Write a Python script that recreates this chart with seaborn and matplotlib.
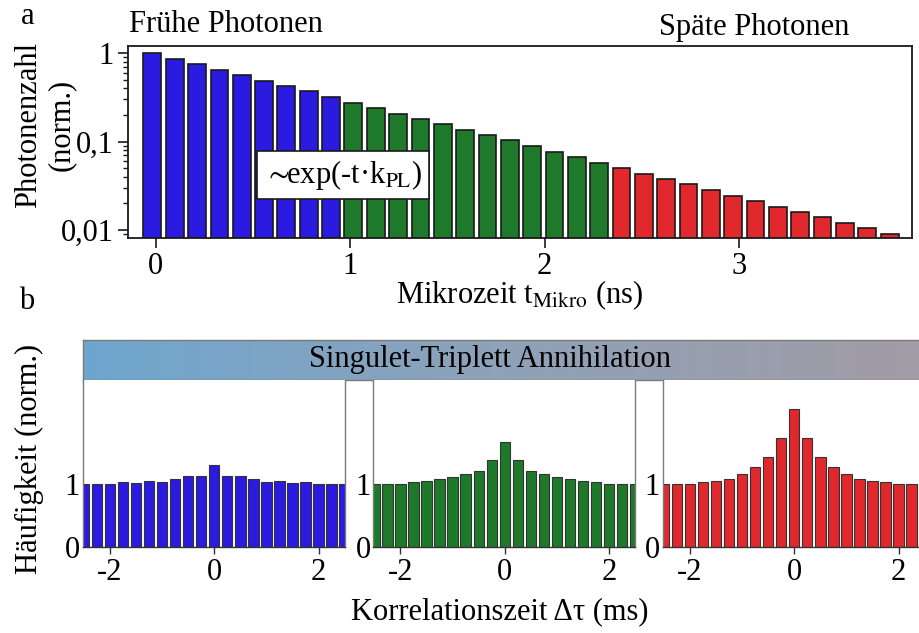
import numpy as np
import pandas as pd
import matplotlib
matplotlib.use("Agg")
import matplotlib.pyplot as plt
import seaborn as sns
from matplotlib.colors import LinearSegmentedColormap

# ---------------- data ----------------
# (a) micro-time histogram of photon arrivals, normalised to the first bin
micro_time_ns = [-0.017, 0.098, 0.213, 0.328, 0.443, 0.558, 0.672, 0.787, 0.902,
                 1.017, 1.132, 1.247, 1.362, 1.477, 1.592, 1.707, 1.821, 1.936,
                 2.051, 2.166, 2.281, 2.396, 2.511, 2.626, 2.741, 2.856, 2.970,
                 3.085, 3.200, 3.315, 3.430, 3.545, 3.660, 3.775]
photon_counts = [1.000, 0.870, 0.757, 0.653, 0.564, 0.490, 0.427, 0.371, 0.320,
                 0.276, 0.240, 0.207, 0.182, 0.157, 0.136, 0.118, 0.103, 0.0886,
                 0.0771, 0.0670, 0.0578,
                 0.0499, 0.0434, 0.0378, 0.0329, 0.0284, 0.0245, 0.0213, 0.0184,
                 0.0160, 0.0139, 0.0120, 0.0104, 0.0089]
photon_group = ["früh"] * 9 + ["mittel"] * 12 + ["spät"] * 13

# (b) correlation histograms for the three photon windows
lag_ms = [-2.5, -2.25, -2.0, -1.75, -1.5, -1.25, -1.0, -0.75, -0.5, -0.25, 0.0,
          0.25, 0.5, 0.75, 1.0, 1.25, 1.5, 1.75, 2.0, 2.25, 2.5]
corr_early = [1.00, 1.00, 1.01, 1.03, 1.02, 1.05, 1.04, 1.08, 1.13, 1.14, 1.31,
              1.14, 1.13, 1.08, 1.04, 1.05, 1.02, 1.03, 1.01, 1.00, 1.00]
corr_middle = [1.00, 1.00, 1.005, 1.03, 1.05, 1.09, 1.11, 1.16, 1.22, 1.39, 1.68,
               1.39, 1.22, 1.16, 1.11, 1.09, 1.05, 1.03, 1.01, 1.00, 1.00]
corr_late = [1.00, 1.00, 1.01, 1.03, 1.05, 1.09, 1.16, 1.27, 1.44, 1.74, 2.21,
             1.74, 1.44, 1.27, 1.16, 1.09, 1.05, 1.03, 1.01, 1.00, 1.00]

group_colors = {"früh": "#2b1ae0", "mittel": "#1e7a2a", "spät": "#e1292d"}

# ---------------- style ----------------
sns.set_theme(style="ticks")
plt.rcParams["font.family"] = ["Liberation Serif", "DejaVu Serif"]
plt.rcParams["mathtext.fontset"] = "stix"
FS = 22
plt.rcParams.update({
    "font.size": FS,
    "text.color": "black",
    "axes.labelcolor": "black",
    "xtick.color": "black",
    "ytick.color": "black",
    "xtick.labelcolor": "black",
    "ytick.labelcolor": "black",
})

fig = plt.figure(figsize=(9.2, 6.33), dpi=100)
W, H = 920.0, 633.0


def fig_rect(x0, y0, x1, y1):
    return [x0 / W, 1 - y1 / H, (x1 - x0) / W, (y1 - y0) / H]


# ---------------- panel a ----------------
ax_a = fig.add_axes(fig_rect(128, 46, 912, 238))
df_a = pd.DataFrame({"t": micro_time_ns, "n": photon_counts, "g": photon_group})
sns.barplot(data=df_a, x="t", y="n", hue="g", palette=group_colors,
            native_scale=True, dodge=False, width=0.8, saturation=1,
            edgecolor="#1a1a1a", linewidth=1.2, legend=False, ax=ax_a)
ax_a.set_yscale("log", nonpositive="clip")
ax_a.set_xlim(-0.142, 3.89)
ax_a.set_ylim(0.0081, 1.21)
ax_a.set_xticks([0, 1, 2, 3])
ax_a.set_xticklabels(["0", "1", "2", "3"])
ax_a.set_yticks([1, 0.1, 0.01])
ax_a.set_yticklabels(["1", "0,1", "0,01"])
ax_a.tick_params(axis="both", which="major", direction="out", length=7,
                 width=1.2, color="#1a1a1a", labelsize=FS, pad=3)
ax_a.tick_params(axis="y", which="minor", direction="out", length=3.5,
                 width=1.0, color="#1a1a1a")
ax_a.tick_params(axis="x", which="minor", bottom=False)
for s in ax_a.spines.values():
    s.set_color("#1a1a1a")
    s.set_linewidth(1.3)
ax_a.set_xlabel(r"Mikrozeit t$_{\mathrm{Mikro}}$ (ns)", fontsize=FS, labelpad=-2)
ax_a.set_ylabel("")

fig.text(45 / W, 1 - 125 / H, "Photonenzahl\n(norm.)", rotation=90,
         ha="center", va="center", multialignment="center", linespacing=1.15,
         fontsize=FS)

ax_a.text((343 - 128) / (912 - 128), (238 - 175) / (238 - 46),
          r"$\sim\!\!$exp(-t·k$_{\mathrm{PL}}$)", transform=ax_a.transAxes,
          ha="center", va="center", fontsize=FS,
          bbox=dict(boxstyle="square,pad=0.22", fc="white", ec="#1a1a1a", lw=1.2))

fig.text(226 / W, 1 - 25 / H, "Frühe Photonen", ha="center", va="center",
         fontsize=FS)
fig.text(754 / W, 1 - 28 / H, "Späte Photonen", ha="center", va="center",
         fontsize=FS)
fig.text(28 / W, 1 - 16 / H, "a", ha="center", va="center", fontsize=FS)
fig.text(27 / W, 1 - 301 / H, "b", ha="center", va="center", fontsize=FS)

# ---------------- panel b ----------------
header = fig.add_axes(fig_rect(82.7, 340, 922, 380))
band = LinearSegmentedColormap.from_list("band", ["#6ea6cf", "#8fa2b8", "#a29ca6"])
header.imshow(np.linspace(0, 1, 256)[None, :], cmap=band, aspect="auto",
              extent=(0, 1, 0, 1))
header.set_xlim(0, 1)
header.set_ylim(0, 1)
header.set_xticks([])
header.set_yticks([])
for s in header.spines.values():
    s.set_color("#7a7a7a")
    s.set_linewidth(1.0)
header.text((490 - 82.7) / (922 - 82.7), 0.5, "Singulet-Triplett Annihilation",
            ha="center", va="center", fontsize=FS)

panel_lefts = [82.7, 373.3, 662.7]
series = [(corr_early, "früh"), (corr_middle, "mittel"), (corr_late, "spät")]
for left, (vals, grp) in zip(panel_lefts, series):
    ax = fig.add_axes(fig_rect(left, 380, left + 262, 546.7))
    df_b = pd.DataFrame({"lag": lag_ms, "g": vals})
    sns.barplot(data=df_b, x="lag", y="g", native_scale=True, width=0.8,
                color=group_colors[grp], saturation=1, edgecolor="#333333",
                linewidth=0.8, ax=ax)
    ax.set_xlim(-2.52, 2.5)
    ax.set_ylim(0, 2.67)
    ax.set_xticks([-2, 0, 2])
    ax.set_xticklabels(["-2", "0", "2"])
    ax.set_yticks([0, 1])
    ax.set_yticklabels(["0", "1"])
    ax.tick_params(axis="x", direction="out", length=5, width=1.0,
                   color="#333333", labelsize=FS, pad=3)
    ax.tick_params(axis="y", length=0, labelsize=FS, pad=2)
    ax.spines["top"].set_visible(False)
    for side in ("left", "right"):
        ax.spines[side].set_color("#7a7a7a")
        ax.spines[side].set_linewidth(1.0)
    ax.spines["bottom"].set_color("#333333")
    ax.spines["bottom"].set_linewidth(1.0)
    ax.set_xlabel("")
    ax.set_ylabel("")

fig.text(29 / W, 1 - 459 / H, "Häufigkeit (norm.)", rotation=90,
         ha="center", va="center", fontsize=FS)
fig.text(500 / W, 1 - 612 / H, "Korrelationszeit Δτ (ms)", ha="center",
         va="center", fontsize=FS)

fig.savefig("out.png", dpi=100)
